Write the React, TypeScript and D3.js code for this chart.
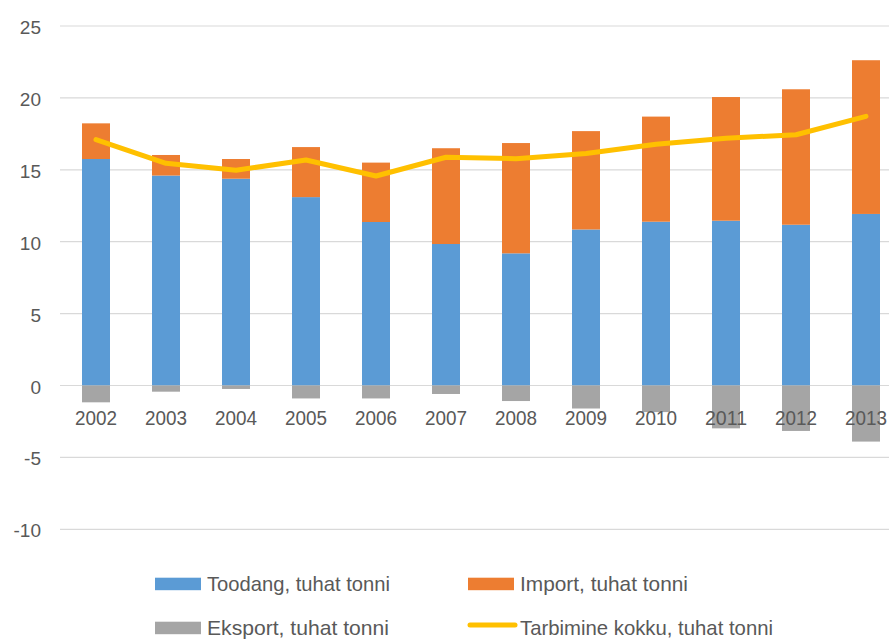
import React from "react";
import * as d3 from "d3";

const years = ["2002","2003","2004","2005","2006","2007","2008","2009","2010","2011","2012","2013"];
const toodang = [15.75, 14.6, 14.38, 13.1, 11.37, 9.84, 9.19, 10.85, 11.39, 11.46, 11.18, 11.93];
const importV = [2.48, 1.43, 1.37, 3.48, 4.13, 6.66, 7.67, 6.84, 7.31, 8.6, 9.42, 10.69];
const eksport = [-1.17, -0.43, -0.24, -0.9, -0.9, -0.59, -1.08, -1.6, -1.85, -2.98, -3.16, -3.9];
const tarbimine = [17.1, 15.45, 14.97, 15.68, 14.57, 15.87, 15.77, 16.13, 16.78, 17.2, 17.44, 18.72];
const yTicks = [-10, -5, 0, 5, 10, 15, 20, 25];

const legendItems = [
  { label: "Toodang, tuhat tonni", color: "#5B9BD5", kind: "rect", len: 183 },
  { label: "Import, tuhat tonni", color: "#ED7D31", kind: "rect", len: 168 },
  { label: "Eksport, tuhat tonni", color: "#A5A5A5", kind: "rect", len: 182 },
  { label: "Tarbimine kokku, tuhat tonni", color: "#FFC000", kind: "line", len: 253 },
];

const W = 889, H = 639;
const FONT = "'Liberation Sans', Arial, sans-serif";
const TXT = "#595959";

export default function App() {
  const x = d3.scaleBand<string>().domain(years).range([61, 901]).paddingInner(0.6).paddingOuter(0.3);
  const y = d3.scaleLinear().domain([-10, 25]).range([529.3, 26]);
  const bw = x.bandwidth();
  const cx = (i: number) => (x(years[i]) as number) + bw / 2;

  const line = d3.line<number>().x((_, i) => cx(i)).y((d) => y(d));

  const legendPos = [
    { x: 155, y: 584 },
    { x: 468, y: 584 },
    { x: 155, y: 628 },
    { x: 468, y: 628 },
  ];

  return (
    <svg width={W} height={H} style={{ position: "absolute", left: 0, top: 0, background: "#fff" }} fontFamily={FONT}>
      <rect x={0} y={0} width={W} height={H} fill="#fff" />
      {yTicks.map((t) => (
        <g key={t}>
          <line x1={60} x2={W} y1={y(t)} y2={y(t)} stroke="#D9D9D9" strokeWidth={1.2} />
          <text x={41} y={y(t) + 8} textAnchor="end" fontSize={19} fill={TXT}>{t}</text>
        </g>
      ))}
      {years.map((yr, i) => (
        <g key={yr}>
          <rect x={x(yr)} width={bw} y={y(toodang[i])} height={y(0) - y(toodang[i])} fill="#5B9BD5" />
          <rect x={x(yr)} width={bw} y={y(toodang[i] + importV[i])} height={y(toodang[i]) - y(toodang[i] + importV[i])} fill="#ED7D31" />
          <rect x={x(yr)} width={bw} y={y(0)} height={y(eksport[i]) - y(0)} fill="#A5A5A5" />
        </g>
      ))}
      {years.map((yr, i) => (
        <text key={"l" + yr} x={cx(i)} y={424.5} textAnchor="middle" fontSize={20} fill={TXT} textLength={42} lengthAdjust="spacingAndGlyphs">{yr}</text>
      ))}
      <path d={line(tarbimine) || ""} fill="none" stroke="#FFC000" strokeWidth={5} strokeLinejoin="round" strokeLinecap="round" />
      {legendItems.map((it, i) => {
        const p = legendPos[i];
        return (
          <g key={it.label}>
            {it.kind === "rect" ? (
              <rect x={p.x} y={p.y - 6.3} width={46} height={12.5} fill={it.color} />
            ) : (
              <line x1={p.x + 2} x2={p.x + 47} y1={p.y - 3} y2={p.y - 3} stroke={it.color} strokeWidth={5} strokeLinecap="round" />
            )}
            <text x={p.x + 52} y={p.y + 6.5} fontSize={21} fill={TXT} textLength={it.len} lengthAdjust="spacingAndGlyphs">{it.label}</text>
          </g>
        );
      })}
    </svg>
  );
}
